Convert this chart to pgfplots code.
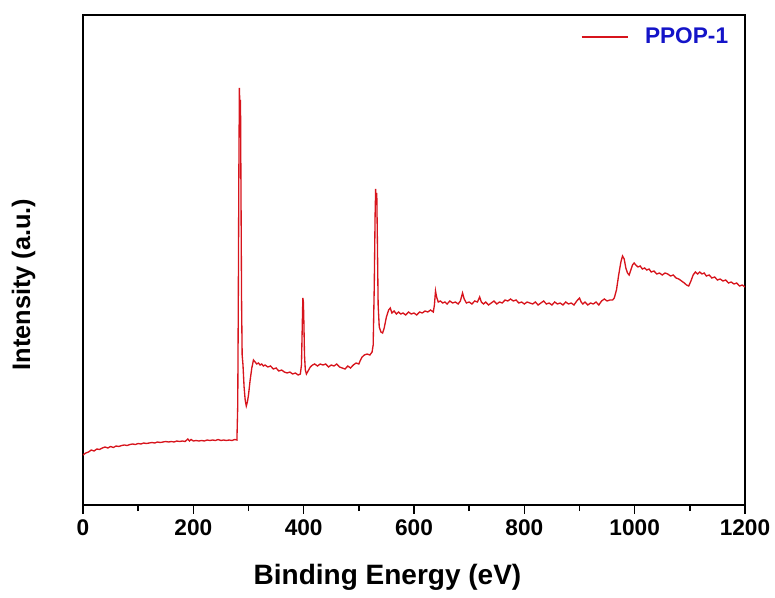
\documentclass[border=0pt]{standalone}
\usepackage{pgfplots}
\pgfplotsset{compat=1.18}
\usepackage{fontspec}
\setmainfont{Liberation Sans}
\definecolor{specred}{RGB}{215,20,28}
\definecolor{legblue}{RGB}{20,20,200}
\begin{document}
\begin{tikzpicture}
\path[use as bounding box] (-62.25pt,-69pt) rectangle (519pt,378.75pt);
\begin{axis}[
  scale only axis,
  width=496.5pt, height=367.5pt,
  xmin=0, xmax=1200, ymin=0, ymax=490,
  xtick={0,200,...,1200},
  minor xtick={100,300,...,1100},
  ytick=\empty,
  xtick pos=bottom,
  tick align=outside,
  major tick length=6.5pt,
  minor tick length=4.5pt,
  every tick/.style={black, line width=1.2pt},
  axis line style={line width=1.5pt},
  /pgf/number format/assume math mode=true,
  /pgf/number format/1000 sep={},
  xticklabel style={font=\fontsize{17}{19}\selectfont\bfseries, yshift=-1pt},
  xlabel={Binding Energy (eV)},
  ylabel={Intensity (a.u.)},
  xlabel style={font=\fontsize{21}{24}\selectfont\bfseries, at={(axis description cs:0.46,-0.147)}, anchor=center},
  ylabel style={font=\fontsize{19}{22}\selectfont\bfseries, at={(axis description cs:-0.065,0.45)}, anchor=south},
  legend style={draw=none, fill=none, at={(0.985,0.985)}, anchor=north east,
    font=\fontsize{17}{20}\selectfont\bfseries\color{legblue}},
  legend cell align=left,
  legend image code/.code={\draw[#1] (-16pt,0pt) -- (19pt,0pt);\path (29pt,0pt);},
]
\addplot[specred, line width=1pt] coordinates {
(0,50) (5,52) (10,53) (15,55) (20,54) (25,56) (30,55.5) (35,57) (40,58) (45,57)
(50,58.5) (55,57.5) (60,59) (65,58.5) (70,59.5) (75,60) (80,59.5) (85,60.5) (90,61) (95,60.5)
(100,61.5) (105,61) (110,62) (115,61.5) (120,62) (125,62.5) (130,62) (135,63) (140,62.5) (145,63)
(150,63.5) (155,63) (160,63.5) (165,63) (170,64) (175,63.5) (180,64) (185,63.5) (190,66) (193,64)
(196,65.5) (200,64) (205,64.5) (210,64) (215,64.5) (220,64) (225,65) (230,64.5) (235,65) (240,64.5)
(245,65.5) (250,64.5) (255,65) (260,64.5) (265,65) (270,64.5) (275,65.5) (279,65)
(280.5,100) (281.5,200) (282.5,330) (283.5,417) (284.5,395) (285.5,405) (286.5,300) (287.5,200) (288.5,150)
(290,140) (292,118) (294,105) (296,99) (298,103) (300,110) (303,125) (306,137) (309,145) (312,143)
(315,141) (318,142) (321,140) (324,141) (327,139) (330,140) (335,138) (340,139) (345,136) (350,137)
(355,134) (360,135) (365,133) (370,132) (375,133) (380,131) (385,132) (390,130) (394,131) (396,140)
(397.5,180) (398.5,207) (399.5,203) (400.5,180) (401.5,150) (403,135) (405,131) (408,134) (412,138) (416,140)
(420,141) (425,139) (430,141) (435,140) (440,141) (445,138) (450,140) (455,139) (460,141) (465,138)
(470,137) (475,136) (480,139) (485,137) (490,140) (495,142) (500,141) (503,145) (506,148) (510,150)
(515,151) (520,150) (524,153) (526,160) (528,220) (529.5,290) (530.5,316) (531.5,300) (532.5,312) (533.5,270)
(535,200) (537,178) (540,173) (543,172) (546,177) (550,188) (554,195) (557,197) (560,192) (564,194)
(568,191) (572,193) (576,191) (580,192) (585,190) (590,193) (595,191) (600,192) (605,190) (610,193)
(615,192) (620,194) (625,193) (630,195) (635,193) (637,200) (639,214) (641,208) (644,203) (648,204)
(652,202) (656,203) (660,201) (665,204) (670,202) (675,203) (680,201) (684,204) (688,212) (691,206)
(695,202) (700,203) (705,201) (710,204) (715,203) (719,208) (722,203) (726,201) (730,203) (735,200)
(740,202) (745,204) (750,201) (755,203) (760,202) (765,205) (770,204) (775,206) (780,204) (785,205)
(790,202) (795,203) (800,201) (805,203) (810,202) (815,201) (820,203) (825,200) (830,202) (835,204)
(840,201) (845,202) (850,200) (855,203) (860,201) (865,202) (870,200) (875,203) (880,201) (885,202)
(890,200) (895,204) (900,207) (903,203) (906,201) (910,203) (915,200) (920,202) (925,201) (930,203)
(935,200) (940,204) (945,206) (950,204) (955,205) (960,205) (963,207) (967,215) (971,230) (975,243)
(978,249) (981,246) (984,237) (987,232) (990,230) (993,235) (996,240) (999,242) (1002,240) (1006,238)
(1010,239) (1014,236) (1018,237) (1022,235) (1026,236) (1030,233) (1035,234) (1040,231) (1045,232) (1050,230)
(1055,232) (1060,231) (1065,229) (1070,230) (1075,227) (1080,226) (1085,224) (1090,222) (1094,220) (1098,219)
(1102,224) (1106,230) (1110,233) (1114,231) (1118,233) (1122,231) (1126,232) (1130,229) (1135,230) (1140,227)
(1145,228) (1150,225) (1155,226) (1160,224) (1165,225) (1170,222) (1175,223) (1180,221) (1185,222) (1190,219)
(1195,220) (1200,218)
};
\addlegendentry{PPOP-1}
\end{axis}
\end{tikzpicture}
\end{document}
